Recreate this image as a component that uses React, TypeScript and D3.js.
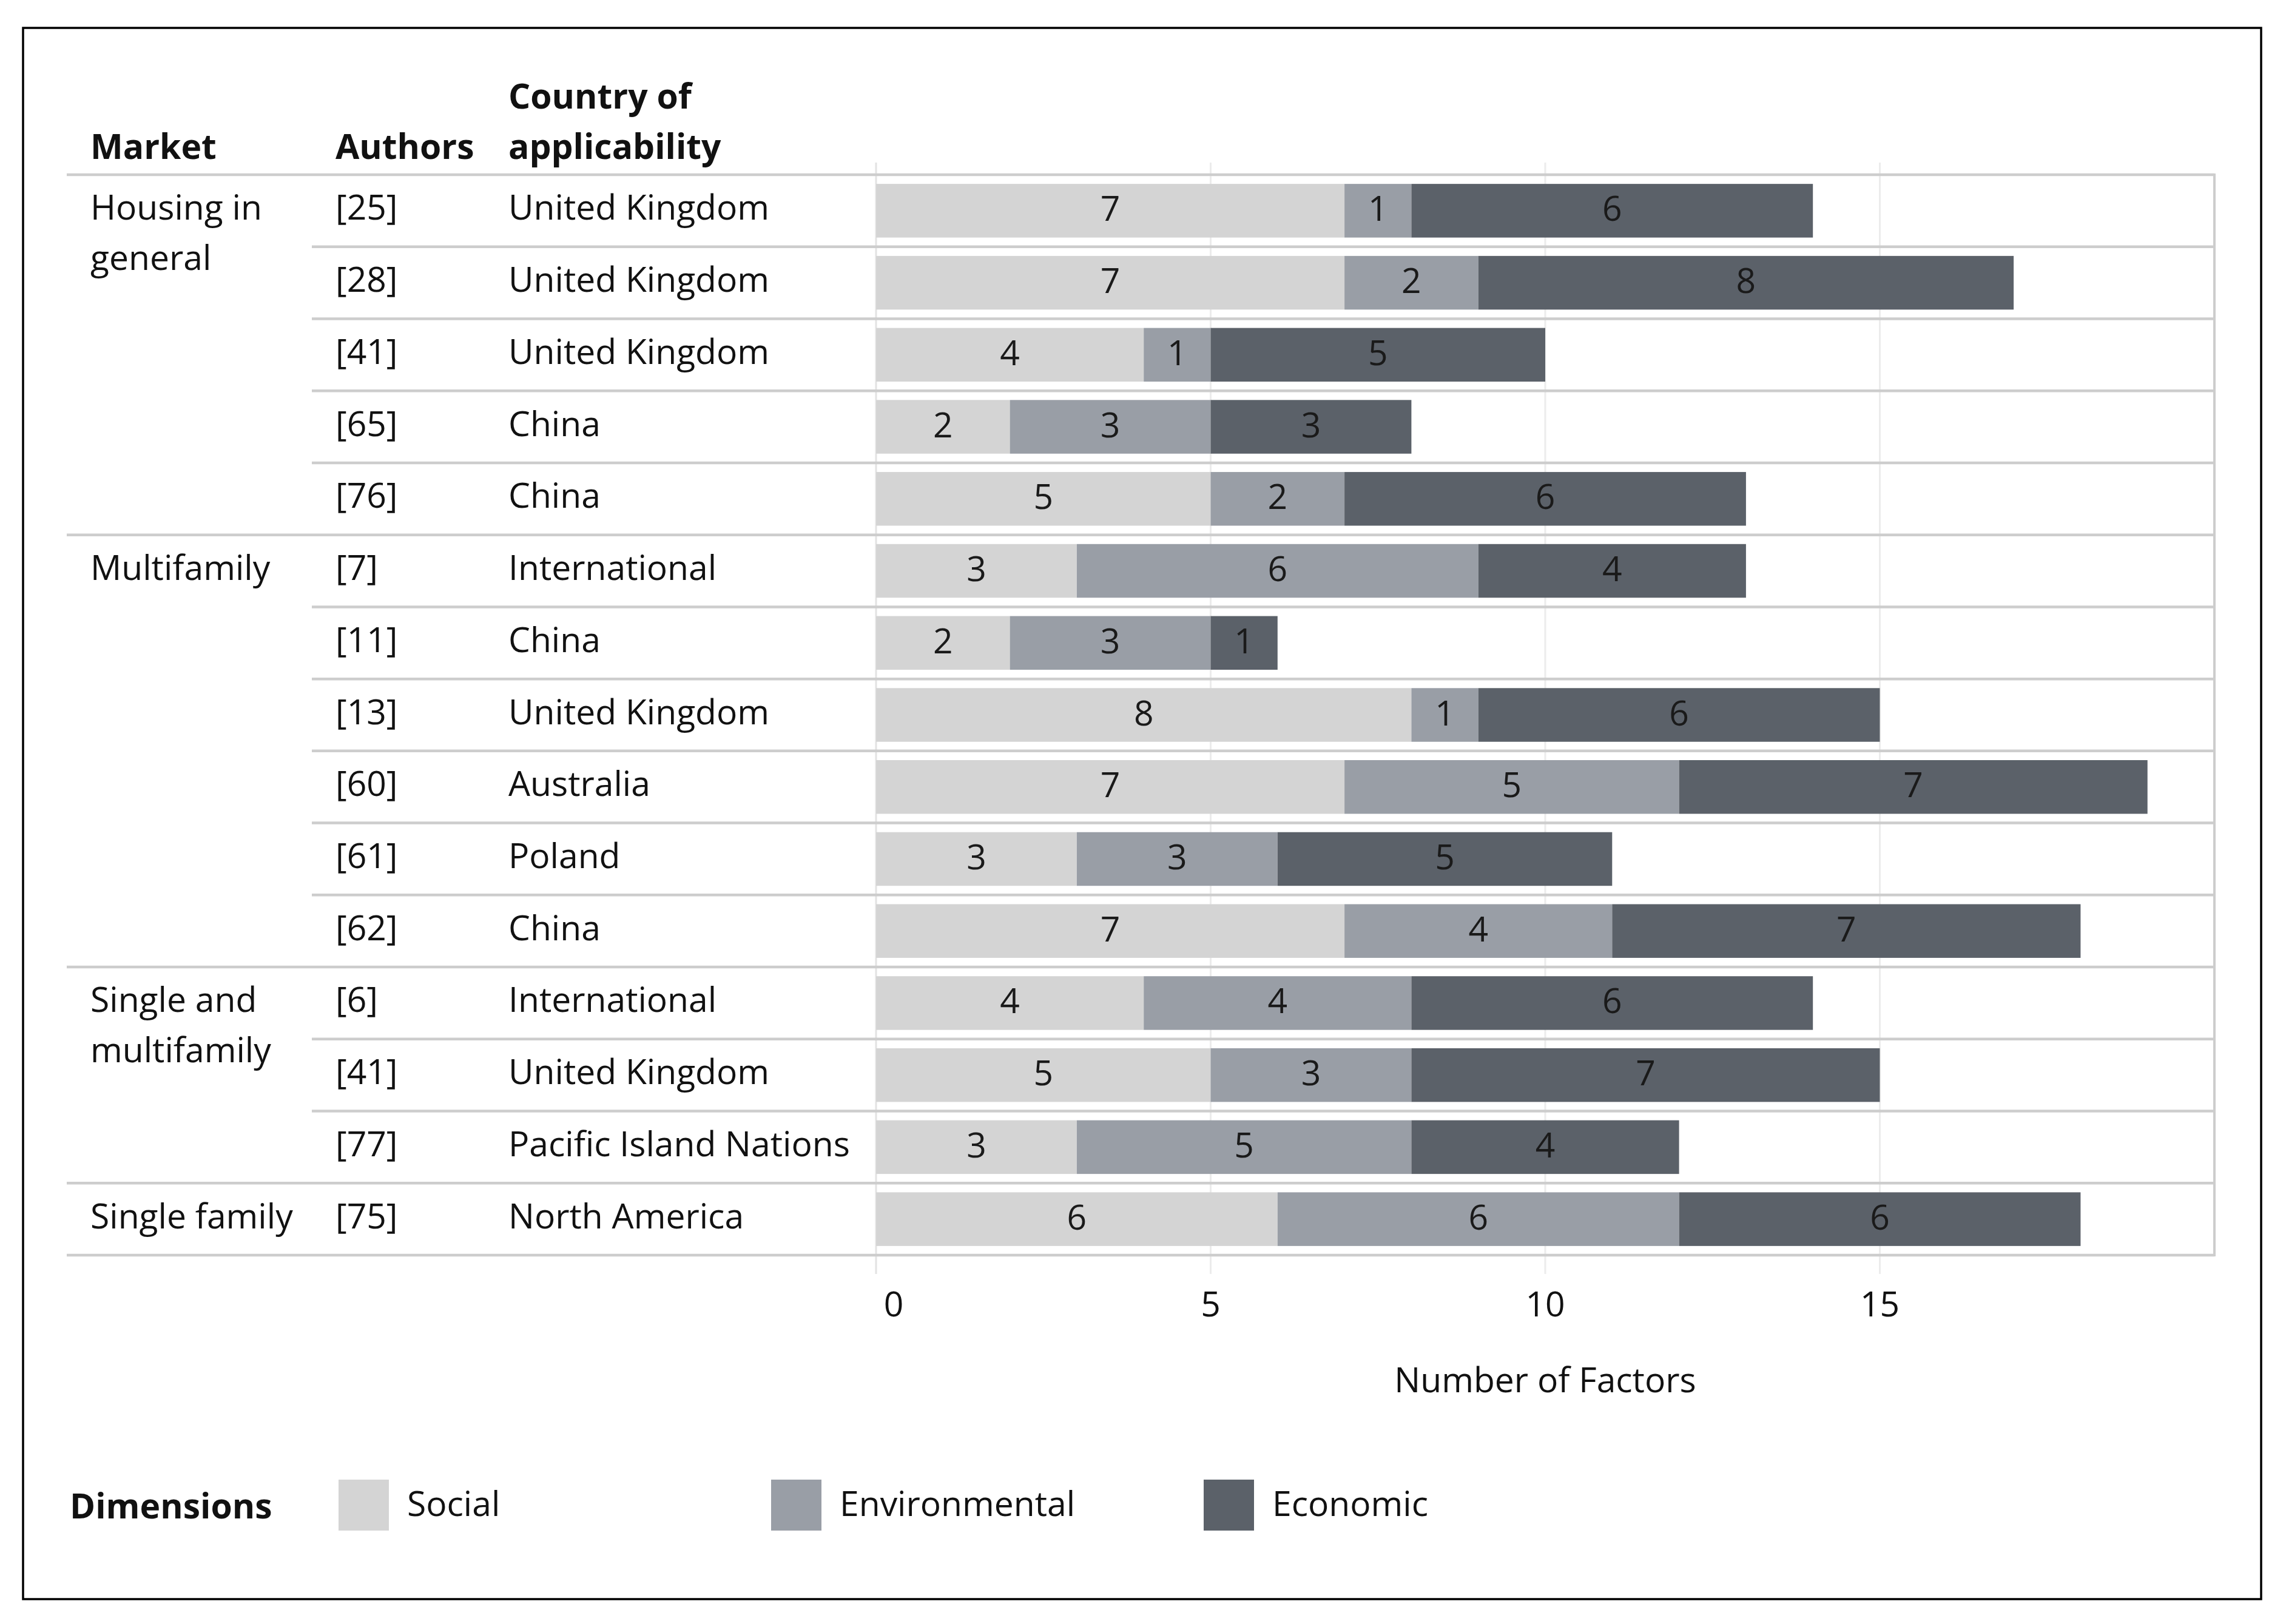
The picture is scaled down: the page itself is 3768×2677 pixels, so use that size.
import React from "react";
import * as d3 from "d3";

const marketNames: string[][] = [["Housing in", "general"], ["Multifamily"], ["Single and", "multifamily"], ["Single family"]];
const marketOfRow = [0, 0, 0, 0, 0, 1, 1, 1, 1, 1, 1, 2, 2, 2, 3];
const authors = ["[25]", "[28]", "[41]", "[65]", "[76]", "[7]", "[11]", "[13]", "[60]", "[61]", "[62]", "[6]", "[41]", "[77]", "[75]"];
const countries = ["United Kingdom", "United Kingdom", "United Kingdom", "China", "China", "International", "China", "United Kingdom", "Australia", "Poland", "China", "International", "United Kingdom", "Pacific Island Nations", "North America"];
const social = [7, 7, 4, 2, 5, 3, 2, 8, 7, 3, 7, 4, 5, 3, 6];
const environmental = [1, 2, 1, 3, 2, 6, 3, 1, 5, 3, 4, 4, 3, 5, 6];
const economic = [6, 8, 5, 3, 6, 4, 1, 6, 7, 5, 7, 6, 7, 4, 6];
const dimensions = ["Social", "Environmental", "Economic"];
const dimColors = ["#d4d4d4", "#999ea6", "#5b6169"];
const xTicks = [0, 5, 10, 15];

const W = 3768;
const H = 2677;
const FONT = "'Open Sans', 'Noto Sans', sans-serif";
const FS = 57;

export default function App() {
  const n = authors.length;
  const x = d3.scaleLinear().domain([0, 20]).range([1444, 3650]);
  const rows = d3.scaleBand<number>().domain(d3.range(n)).range([288, 2069]).padding(0);
  const step = rows.bandwidth();
  const barH = step * 0.745;
  const series = [social, environmental, economic];
  const stackData = d3.range(n).map((i) => ({ i, Social: social[i], Environmental: environmental[i], Economic: economic[i] }));
  const stacked = d3.stack<any>().keys(dimensions)(stackData);
  const colorScale = d3.scaleOrdinal<string, string>().domain(dimensions).range(dimColors);

  const lineLeftGroup = 110;
  const lineLeftRow = 514;
  const panelRight = x(20);

  const separators: { y: number; x0: number }[] = [];
  separators.push({ y: rows(0)!, x0: lineLeftGroup });
  for (let i = 1; i < n; i++) {
    separators.push({ y: rows(i)!, x0: marketOfRow[i] !== marketOfRow[i - 1] ? lineLeftGroup : lineLeftRow });
  }
  separators.push({ y: rows(n - 1)! + step, x0: lineLeftGroup });

  const groupStarts = marketNames.map((_, g) => marketOfRow.indexOf(g));

  return (
    <svg width={W} height={H} viewBox={`0 0 ${W} ${H}`} style={{ position: "fixed", left: 0, top: 0, display: "block", background: "#fff" }} fontFamily={FONT}>
      <rect x={0} y={0} width={W} height={H} fill="#fff" />
      {/* gridlines */}
      {[0, 5, 10, 15].map((v) => (
        <line key={"g" + v} x1={x(v)} x2={x(v)} y1={268} y2={2100} stroke={v === 0 ? "#e3e3e3" : "#ececec"} strokeWidth={3} />
      ))}
      {/* bars */}
      {stacked.map((s, si) => (
        <g key={s.key} fill={colorScale(s.key)}>
          {s.map((d, i) => (
            <rect key={i} x={x(d[0])} width={x(d[1]) - x(d[0])} y={rows(i)! + (step - barH) / 2} height={barH} />
          ))}
        </g>
      ))}
      {/* value labels */}
      {stacked.map((s, si) => (
        <g key={"l" + s.key}>
          {s.map((d, i) => (
            <text key={i} x={(x(d[0]) + x(d[1])) / 2} y={rows(i)! + step / 2 + 17} textAnchor="middle" fontSize={FS} fill="#1a1a1a">
              {series[si][i]}
            </text>
          ))}
        </g>
      ))}
      {/* separators */}
      {separators.map((s, k) => (
        <line key={"s" + k} x1={s.x0} x2={panelRight} y1={s.y} y2={s.y} stroke="#cdcdcd" strokeWidth={4.5} />
      ))}
      <line x1={panelRight} x2={panelRight} y1={rows(0)! - 2} y2={rows(n - 1)! + step + 2} stroke="#cdcdcd" strokeWidth={4} />

      {/* headers */}
      <g fontWeight={700} fontSize={FS} fill="#111">
        <text x={149} y={262}>Market</text>
        <text x={553} y={262}>Authors</text>
        <text x={838} y={179}>Country of</text>
        <text x={838} y={262}>applicability</text>
      </g>
      {/* table text */}
      <g fontSize={FS} fill="#111">
        {marketNames.map((lines, g) => (
          <text key={"m" + g} x={149} y={rows(groupStarts[g])! + step / 2 + 15}>
            {lines.map((l, li) => (
              <tspan key={li} x={149} dy={li === 0 ? 0 : 83}>{l}</tspan>
            ))}
          </text>
        ))}
        {authors.map((a, i) => (
          <text key={"a" + i} x={553} y={rows(i)! + step / 2 + 15}>{a}</text>
        ))}
        {countries.map((c, i) => (
          <text key={"c" + i} x={838} y={rows(i)! + step / 2 + 15}>{c}</text>
        ))}
      </g>
      {/* x axis */}
      <g fontSize={FS} fill="#111" textAnchor="middle">
        {xTicks.map((v) => (
          <text key={"t" + v} x={x(v)} dx={v === 0 ? 29 : 0} y={2170}>{v}</text>
        ))}
        <text x={x(10)} y={2295}>Number of Factors</text>
      </g>
      {/* legend */}
      <text x={115} y={2503} fontSize={FS} fontWeight={700} fill="#111">Dimensions</text>
      {dimensions.map((d, k) => (
        <g key={"lg" + d} transform={`translate(${558 + k * 713},2439)`}>
          <rect x={0} y={0} width={83} height={84} fill={colorScale(d)} />
          <text x={113} y={60} fontSize={FS} fill="#111">{d}</text>
        </g>
      ))}
      {/* outer border */}
      <rect x={38} y={46} width={3689} height={2590} fill="none" stroke="#000" strokeWidth={3.5} />
    </svg>
  );
}
